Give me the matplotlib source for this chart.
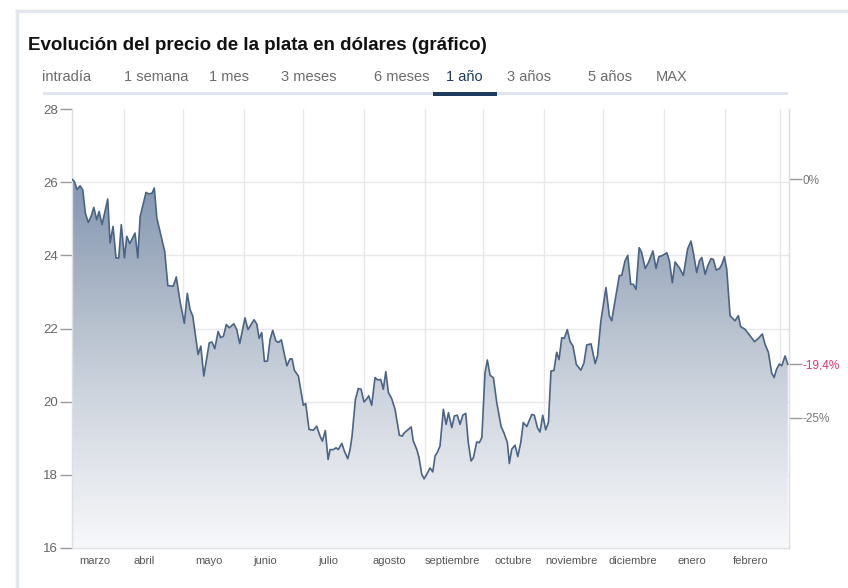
import numpy as np
import matplotlib.pyplot as plt
from matplotlib.colors import LinearSegmentedColormap
from matplotlib.patches import Rectangle

plt.rcParams['font.family'] = ['Liberation Sans', 'DejaVu Sans']

# -----------------------------
# Data: silver price (USD), days counted from 2022-03-01
# -----------------------------
day = [4.5, 5.7, 7.1, 8.6, 10.0, 11.3, 12.8, 14.2, 15.6, 17.1, 18.3, 19.8,
       22.7, 23.9, 25.4, 26.9, 28.3, 29.6, 31.2, 32.4, 33.9, 36.6, 38.0, 39.2,
       42.2, 43.6, 45.3, 46.4, 47.7, 51.7, 53.3, 56.1, 57.6, 59.5, 61.7, 63.2,
       64.6, 66.0, 68.7, 70.1, 71.6, 74.4, 75.8, 77.2, 78.9, 80.2, 81.6, 83.1,
       84.6, 86.9, 88.4, 89.9, 92.6, 94.1,
       97.2, 98.6, 99.8, 101.1, 102.5, 104.0, 105.4, 106.7, 108.3, 109.6, 111.1,
       113.9, 115.5, 116.6, 117.7, 119.8, 122.3, 123.5, 125.2, 127.4, 129.1,
       130.8, 132.0, 133.5, 134.9, 135.9, 137.6, 139.0, 140.1, 141.9, 143.2,
       144.9, 146.1, 147.1, 148.8, 150.3, 151.7, 153.2, 154.6, 155.6, 157.1,
       158.8, 160.2, 161.7, 163.0, 164.3, 165.6, 167.3, 169.0, 171.2, 172.7,
       173.7, 175.3, 177.2, 178.3, 180.1, 181.2, 182.6, 183.8, 185.1, 186.8,
       188.2, 189.4, 190.5, 191.9,
       193.6, 195.0, 196.2, 197.9, 199.2, 200.7, 202.1, 203.5, 205.0, 206.3,
       207.7, 208.9, 210.6, 211.9, 213.2, 214.8, 216.0, 217.4, 219.1, 220.8,
       223.0, 224.5, 226.2, 227.2, 228.4, 230.1, 231.5, 233.0, 234.3, 236.1,
       238.6, 239.9, 241.5, 242.8, 244.2, 245.7, 247.1, 248.4, 249.9, 251.3,
       252.5, 253.9, 255.2, 256.7, 258.1, 259.6, 261.3, 263.6, 265.2, 266.6,
       268.8, 270.9, 272.1, 273.8,
       276.4, 278.1, 279.3, 281.0, 283.2, 284.4, 286.1, 287.5, 289.0, 290.3,
       291.7, 293.3, 294.6, 296.4, 298.0, 300.3, 301.9, 303.3, 305.3, 307.4,
       308.7, 310.2, 311.6, 313.8, 315.8, 318.0, 319.7, 320.9, 322.6, 324.0,
       325.2, 326.9, 328.2, 329.9, 331.1, 332.5, 334.2, 335.4, 336.7, 337.9,
       339.6, 342.1, 343.8, 345.0, 347.2, 349.8, 352.0, 354.0, 356.0, 357.4,
       359.1, 360.8, 362.0, 363.3, 364.7, 365.9, 367.6, 369.0]

price = [26.08, 26.02, 25.80, 25.90, 25.79, 25.15, 24.90, 25.06, 25.31, 24.97, 25.20, 24.84,
         25.54, 24.34, 24.79, 23.93, 23.93, 24.84, 23.93, 24.52, 24.32, 24.61, 23.93, 25.06,
         25.72, 25.68, 25.70, 25.84, 25.02, 24.11, 23.17, 23.16, 23.41, 22.75, 22.14, 22.96,
         22.52, 22.34, 21.29, 21.52, 20.70, 21.61, 21.63, 21.45, 21.92, 21.75, 21.79, 22.11,
         22.02, 22.13, 21.97, 21.59, 22.29, 21.97,
         22.24, 22.12, 21.73, 21.89, 21.10, 21.11, 21.71, 21.95, 21.66, 21.62, 21.69,
         20.98, 21.17, 21.17, 20.86, 20.70, 19.90, 19.95, 19.24, 19.22, 19.33,
         19.06, 18.92, 19.21, 18.42, 18.69, 18.69, 18.74, 18.69, 18.86, 18.65,
         18.44, 18.69, 19.06, 20.06, 20.36, 20.34, 19.99, 20.08, 20.16, 19.90,
         20.66, 20.59, 20.61, 20.34, 20.82, 20.25, 20.08, 19.79, 19.08, 19.06,
         19.15, 19.22, 19.31, 18.92, 18.69, 18.47, 18.01, 17.89, 18.01, 18.19,
         18.08, 18.52, 18.61, 18.79,
         19.79, 19.38, 19.70, 19.29, 19.61, 19.63, 19.38, 19.63, 19.68, 18.88,
         18.38, 18.47, 18.90, 18.88, 19.02, 20.79, 21.14, 20.72, 20.65, 19.97,
         19.32, 19.14, 18.88, 18.31, 18.70, 18.81, 18.50, 18.88, 19.43, 19.32,
         19.65, 19.63, 19.29, 19.17, 19.63, 19.23, 19.43, 20.84, 20.85, 21.35,
         21.15, 21.75, 21.73, 21.97, 21.65, 21.52, 21.02, 20.86, 21.06, 21.55,
         21.58, 21.04, 21.25, 22.20,
         23.12, 22.35, 22.21, 22.75, 23.45, 23.45, 23.85, 24.00, 23.21, 23.21,
         23.07, 24.21, 24.07, 23.64, 23.80, 24.12, 23.64, 23.96, 24.00, 24.07,
         23.85, 23.25, 23.82, 23.66, 23.45, 24.18, 24.39, 24.07, 23.53, 23.85,
         23.94, 23.48, 23.71, 23.91, 23.89, 23.60, 23.64, 23.75, 23.96, 23.62,
         22.35, 22.21, 22.35, 22.05, 21.98, 21.80, 21.64, 21.73, 21.85, 21.57,
         21.35, 20.78, 20.66, 20.89, 21.03, 20.98, 21.25, 21.02]

month_names = ['marzo', 'abril', 'mayo', 'junio', 'julio', 'agosto', 'septiembre',
               'octubre', 'noviembre', 'diciembre', 'enero', 'febrero']
month_label_day = [16, 41, 74, 103, 135, 166, 198, 229, 259, 290, 320, 350]

tabs = ['intradía', '1 semana', '1 mes', '3 meses', '6 meses', '1 año',
        '3 años', '5 años', 'MAX']
tab_x = [67, 156, 229, 309, 402, 464, 529, 610, 672]
active_tab = '1 año'

y_ticks = [16, 18, 20, 22, 24, 26, 28]

day = np.array(day)
price = np.array(price)

base = np.datetime64('2022-03-01')
month_starts = np.arange('2022-04', '2023-04', dtype='datetime64[M]')
grid_days = (month_starts.astype('datetime64[D]') - base).astype(int)

# -----------------------------
# Figure + frame
# -----------------------------
W, H = 848, 588
fig = plt.figure(figsize=(W / 100, H / 100), dpi=100)
fig.patch.set_facecolor('white')

frame_col = '#e3e6ea'
fig.add_artist(plt.Line2D([17 / W, 1], [1 - 11 / H, 1 - 11 / H], color=frame_col, lw=2.5))
fig.add_artist(plt.Line2D([17 / W, 17 / W], [0, 1 - 11 / H], color=frame_col, lw=2.5))

fig.text(28 / W, 1 - 46 / H, 'Evolución del precio de la plata en dólares (gráfico)',
         fontsize=13.5, fontweight='bold', color='#111111', va='center', ha='left')

for name, tx in zip(tabs, tab_x):
    col = '#1f3a5f' if name == active_tab else '#6b6b6b'
    fig.text(tx / W, 1 - 77 / H, name, fontsize=10.5, color=col, ha='center', va='center')

fig.add_artist(Rectangle((43 / W, 1 - 95 / H), (788 - 43) / W, 3.5 / H,
                         color='#dfe5ec', lw=0))
fig.add_artist(Rectangle((433 / W, 1 - 96 / H), (497 - 433) / W, 4 / H,
                         color='#1f3a5f', lw=0))

# -----------------------------
# Main axes
# -----------------------------
ax = fig.add_axes([72 / W, 1 - 548 / H, (789 - 72) / W, (548 - 109) / H])
ax.set_xlim(day[0], 369.6)
ax.set_ylim(16, 28)

grid_col = '#e6e8eb'
for g in y_ticks[1:-1]:
    ax.axhline(g, color=grid_col, lw=1, zorder=0)
for g in grid_days:
    ax.axvline(g, color=grid_col, lw=1, zorder=0)

# gradient fill under the line
cmap = LinearSegmentedColormap.from_list('silver', [
    (0.0, '#f7f8fa'), (2 / 12, '#e4e7ed'), (4 / 12, '#d0d6df'),
    (6 / 12, '#b8c2cf'), (8 / 12, '#9eacbf'), (10 / 12, '#8397b1'),
    (1.0, '#7a8ea9')])
grad = np.linspace(0, 1, 256).reshape(-1, 1)
poly = ax.fill_between(day, price, 16, color='none', lw=0)
im = ax.imshow(grad, extent=[day[0], 369.6, 16, 28], origin='lower',
               aspect='auto', cmap=cmap, zorder=1)
im.set_clip_path(poly.get_paths()[0], transform=ax.transData)

ax.plot(day, price, color='#4b6384', lw=1.2, zorder=3)

ax.set_yticks(y_ticks)
ax.set_yticklabels([str(t) for t in y_ticks])
ax.tick_params(axis='y', length=9, width=1, color='#9a9a9a', labelsize=9.5,
               labelcolor='#666666', pad=1)

ax.set_xticks(month_label_day)
ax.set_xticklabels(month_names)
ax.tick_params(axis='x', length=0, labelsize=8, labelcolor='#555555', pad=6)

for s in ['top']:
    ax.spines[s].set_visible(False)
for s in ['left', 'bottom', 'right']:
    ax.spines[s].set_color('#dcdfe3')
    ax.spines[s].set_linewidth(1)

# -----------------------------
# Right axis: change in %
# -----------------------------
ax2 = ax.twinx()
ax2.set_ylim(16, 28)
first, last = price[0], price[-1]
chg = (last / first - 1) * 100
r_ticks = [first, first * 0.75, last]
r_labels = ['0%', '-25%', f'{chg:.1f}%'.replace('.', ',')]
ax2.set_yticks(r_ticks)
ax2.set_yticklabels(r_labels)
ax2.tick_params(axis='y', length=9, width=1, color='#9a9a9a', labelsize=8.5,
                labelcolor='#777777', pad=1)
ax2.get_yticklabels()[2].set_color('#e0336f')
for s in ['top', 'left', 'bottom']:
    ax2.spines[s].set_visible(False)
ax2.spines['right'].set_color('#dcdfe3')

fig.savefig('out.png', dpi=100)
